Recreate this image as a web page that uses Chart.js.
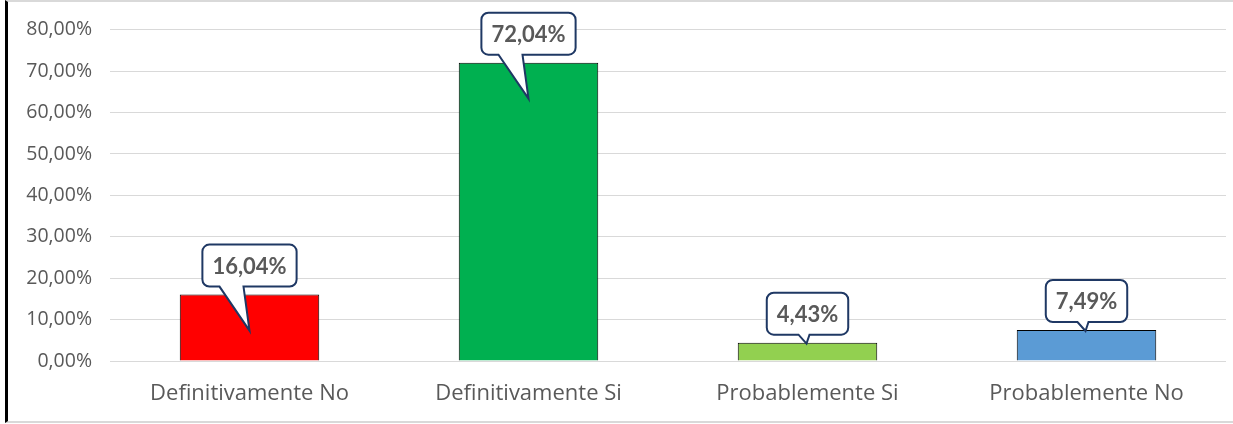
<!DOCTYPE html>
<html>
<head>
<meta charset="utf-8">
<script src="https://cdn.jsdelivr.net/npm/chart.js@4"></script>
<style>
  html, body { margin: 0; padding: 0; background: #fff; }
  .wrap { position: relative; width: 1233px; height: 424px; overflow: hidden; }
  .frame {
    position: absolute; left: 5px; top: 0; width: 1240px; height: 419px;
    border-left: 3px solid #000; border-top: 2px solid #d9d9d9; border-bottom: 2px solid #d9d9d9;
  }
  canvas { position: absolute; left: 0; top: 0; }
</style>
</head>
<body>
<div class="wrap">
  <div class="frame"></div>
  <canvas id="chart" width="1233" height="424"></canvas>
</div>
<script>
const categories = ['Definitivamente No', 'Definitivamente Si', 'Probablemente Si', 'Probablemente No'];
const values = [16.04, 72.04, 4.43, 7.49];
const barColors = ['#ff0000', '#00b050', '#92d050', '#5b9bd5'];
const yMax = 80;
const yStep = 10;

const fmt = v => v.toFixed(2).replace('.', ',') + '%';

// callout boxes above each bar, like the excel data labels
const calloutPlugin = {
    id: 'callouts',
    afterDatasetsDraw(chart) {
        const ctx = chart.ctx;
        const meta = chart.getDatasetMeta(0);
        ctx.save();
        ctx.font = 'bold 22px Lato';
        meta.data.forEach((bar, i) => {
            const text = fmt(values[i]);
            const w = ctx.measureText(text).width + 20;
            const h = 42;
            const cx = bar.x;
            const bottom = bar.y - 8;
            const left = cx - w / 2;
            const top = bottom - h;
            const tall = (bar.base - bar.y) > 60;
            const tipX = tall ? cx : cx - 1;
            const tipY = tall ? bar.y + 36 : bar.y + 1;
            const t1 = tall ? cx - 30 : cx - 9;
            const t2 = tall ? cx - 6 : cx + 2;
            const r = 7;

            ctx.beginPath();
            ctx.moveTo(left + r, top);
            ctx.lineTo(left + w - r, top);
            ctx.arcTo(left + w, top, left + w, top + r, r);
            ctx.lineTo(left + w, bottom - r);
            ctx.arcTo(left + w, bottom, left + w - r, bottom, r);
            ctx.lineTo(t2, bottom);
            ctx.lineTo(tipX, tipY);
            ctx.lineTo(t1, bottom);
            ctx.lineTo(left + r, bottom);
            ctx.arcTo(left, bottom, left, bottom - r, r);
            ctx.lineTo(left, top + r);
            ctx.arcTo(left, top, left + r, top, r);
            ctx.closePath();
            ctx.fillStyle = '#ffffff';
            ctx.fill();
            ctx.lineWidth = 2;
            ctx.strokeStyle = '#1f3864';
            ctx.stroke();

            ctx.fillStyle = '#595959';
            ctx.textAlign = 'center';
            ctx.textBaseline = 'middle';
            ctx.fillText(text, cx, top + h / 2 + 1);
        });
        ctx.restore();
    }
};

const ctx = document.getElementById('chart').getContext('2d');
new Chart(ctx, {
    type: 'bar',
    data: {
        labels: categories,
        datasets: [{
            data: values,
            backgroundColor: barColors,
            borderColor: '#000000',
            borderWidth: 1,
            barPercentage: 0.5,
            categoryPercentage: 1.0,
        }],
    },
    options: {
        responsive: false,
        animation: false,
        layout: { padding: { top: 29, right: 7, left: 0, bottom: 0 } },
        plugins: {
            legend: { display: false },
            tooltip: { enabled: false },
        },
        scales: {
            x: {
                grid: { display: false, drawTicks: false },
                border: { display: false },
                ticks: { color: '#595959', font: { family: 'Open Sans', size: 22 }, padding: 20 },
                afterFit: (scale) => { scale.height = 63; },
            },
            y: {
                min: 0,
                max: yMax,
                ticks: {
                    stepSize: yStep,
                    color: '#595959',
                    font: { family: 'Open Sans', size: 19.5 },
                    padding: 18,
                    callback: (v) => fmt(v),
                },
                grid: { color: '#d9d9d9', lineWidth: 1, drawTicks: false },
                border: { display: false },
                afterFit: (scale) => { scale.width = 110; },
            },
        },
    },
    plugins: [calloutPlugin],
});
</script>
</body>
</html>
